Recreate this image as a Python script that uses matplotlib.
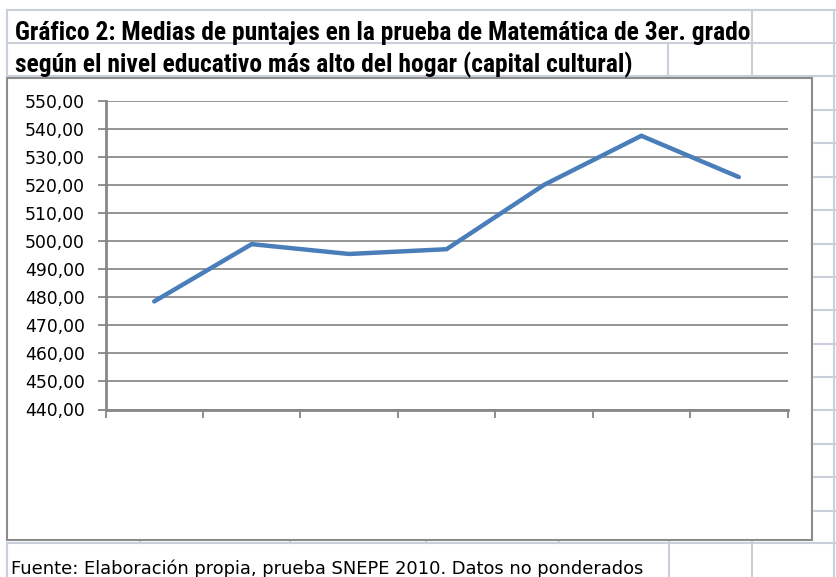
import matplotlib
matplotlib.use("Agg")
import matplotlib.pyplot as plt
from matplotlib.lines import Line2D
from matplotlib.patches import Rectangle
from matplotlib import font_manager
from matplotlib.font_manager import FontProperties

# ---- data ----
categories = ["", "", "", "", "", "", ""]
values = [478.5, 498.9, 495.4, 497.1, 520.0, 537.5, 522.8]
y_ticks = [440, 450, 460, 470, 480, 490, 500, 510, 520, 530, 540, 550]
title_line1 = "Gráfico 2: Medias de puntajes en la prueba de Matemática de 3er. grado"
title_line2 = "según el nivel educativo más alto del hogar (capital cultural)"
source_text = "Fuente: Elaboración propia, prueba SNEPE 2010. Datos no ponderados"

W, H = 836, 577
fig = plt.figure(figsize=(W / 100, H / 100), dpi=100)
fig.patch.set_facecolor("white")

def fx(px):
    return px / W

def fy(py):
    return 1 - py / H

grid_c = "#c9d0dc"
def hline(y, x0, x1, c=grid_c, lw=1.5, z=0):
    fig.add_artist(Line2D([fx(x0), fx(x1)], [fy(y), fy(y)], color=c, lw=lw, zorder=z))

def vline(x, y0, y1, c=grid_c, lw=1.5, z=0):
    fig.add_artist(Line2D([fx(x), fx(x)], [fy(y0), fy(y1)], color=c, lw=lw, zorder=z))

# spreadsheet cell grid
for y in [10, 43, 76]:
    hline(y, 7, 836)
for y in [110, 143, 177, 210, 244, 277, 310, 344, 377, 410, 444, 477, 511]:
    hline(y, 812, 836)
hline(543, 7, 836)
vline(7, 10, 78)
vline(7, 543, 577)
vline(752, 10, 76)
vline(668, 43, 76)
vline(752, 43, 76)
vline(834, 10, 577)
for x in [140, 290, 426, 559, 669, 752]:
    vline(x, 540, 577 if x in (669, 752) else 543)

# chart frame
fig.add_artist(Rectangle((fx(7), fy(540)), fx(812) - fx(7), fy(78) - fy(540),
                         transform=fig.transFigure, facecolor="white",
                         edgecolor="#8c8c8c", lw=1.5, zorder=1))

# title font: a narrow / condensed bold face
cands = []
for f in font_manager.fontManager.ttflist:
    nm = f.name.lower()
    narrow = ("narrow" in nm or "condensed" in nm or
              str(f.stretch) in ("condensed", "semi-condensed", "extra-condensed", "ultra-condensed")
              or (isinstance(f.stretch, int) and f.stretch < 500))
    bold = (f.weight in ("bold", "heavy", "black") or
            (isinstance(f.weight, int) and f.weight >= 700))
    if narrow and bold:
        cands.append(f)
prio = ["Roboto Condensed", "Liberation Sans Narrow", "Open Sans Condensed", "DejaVu Sans"]
def key(f):
    for i, p in enumerate(prio):
        if f.name.startswith(p):
            return i
    return len(prio)
cands.sort(key=key)
if cands:
    tprop = FontProperties(fname=cands[0].fname)
else:
    tprop = FontProperties(family="DejaVu Sans", weight="bold")

t1 = fig.text(fx(15), fy(40), title_line1, fontproperties=tprop, va="baseline",
              ha="left", zorder=3)
t2 = fig.text(fx(15), fy(72), title_line2, fontproperties=tprop, va="baseline",
              ha="left", zorder=3)
t1.set_fontsize(17)
t2.set_fontsize(17)
fig.canvas.draw()
r = fig.canvas.get_renderer()
w1 = t1.get_window_extent(r).width
fs = 17 * 736.0 / w1
t1.set_fontsize(fs)
t2.set_fontsize(fs)

fig.text(fx(11), fy(574), source_text, fontsize=12.9, family="DejaVu Sans",
         va="baseline", ha="left", zorder=3)

# axes
left, right, top, bottom = 105.5, 787.5, 100.7, 409.5
ax = fig.add_axes([fx(left), fy(bottom), fx(right) - fx(left), fy(top) - fy(bottom)], zorder=2)
ax.set_facecolor("none")
x = list(range(len(values)))
ax.plot(x, values, color="#4a7ebb", lw=3.2, solid_capstyle="round",
        solid_joinstyle="miter", zorder=3)
ax.set_xlim(-0.5, len(values) - 0.5)
ax.set_ylim(440, 550)
ax.set_yticks(y_ticks)
ax.set_yticklabels([f"{v:.2f}".replace(".", ",") for v in y_ticks], fontsize=12.4,
                   family="DejaVu Sans")
ax.set_xticks([i - 0.5 for i in range(len(values) + 1)])
ax.set_xticklabels([""] * (len(values) + 1))
ax.grid(axis="y", color="#8c8c8c", lw=1.3, zorder=1)
ax.set_axisbelow(True)
for s in ["top", "right"]:
    ax.spines[s].set_visible(False)
for s in ["left", "bottom"]:
    ax.spines[s].set_color("#878787")
    ax.spines[s].set_linewidth(2.0)
ax.tick_params(axis="y", direction="out", length=6, width=1.3, color="#878787", pad=9)
ax.tick_params(axis="x", direction="out", length=6, width=1.3, color="#878787")

fig.savefig("out.png", dpi=100)
